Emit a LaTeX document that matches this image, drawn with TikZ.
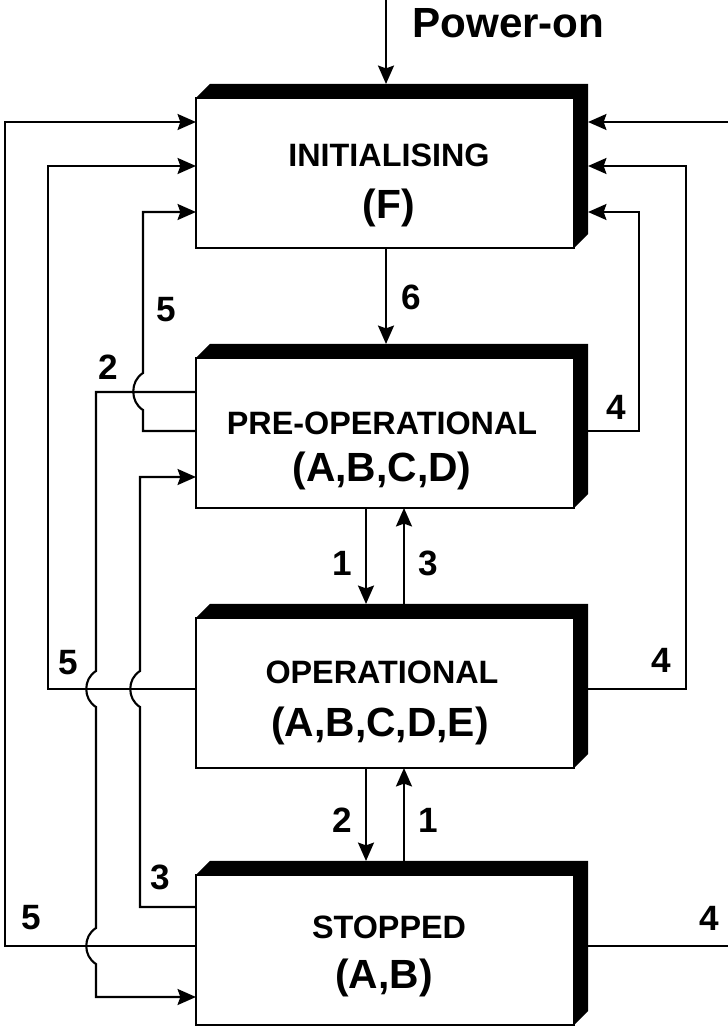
\documentclass[tikz,border=0pt]{standalone}
\usepackage{fontspec}
\setmainfont{Liberation Sans}
\usetikzlibrary{arrows.meta, calc, backgrounds}

\begin{document}
\begin{tikzpicture}[
        x=0.025cm, y=-0.025cm,
        state/.style={draw, fill=white, line width=1.1pt, minimum width=9.45cm, minimum height=3.75cm, inner sep=0pt, outer sep=0pt},
        stname/.style={font=\fontsize{23}{28}\selectfont\bfseries, inner sep=0pt},
        stval/.style={font=\fontsize{29}{34}\selectfont\bfseries, inner sep=0pt},
        arrow/.style={-{Stealth[length=4.6mm, width=4mm, inset=0.7mm]}, line width=1.5pt},
        num/.style={font=\fontsize{25}{30}\selectfont\bfseries, inner sep=0pt}
    ]
        \path[use as bounding box, clip] (0,0) rectangle (728,1026);

        % States
        \node[state] (init)  at (385,173) {};
        \node[state] (preop) at (385,433) {};
        \node[state] (op)    at (385,693) {};
        \node[state] (stop)  at (385,950) {};

        \node[stname] (init-n)  at (389,155) {INITIALISING};
        \node[stval]  (init-v)  at (389,208) {(F)};
        \node[stname] (preop-n) at (382,423) {PRE-OPERATIONAL};
        \node[stval]  (preop-v) at (382,471) {(A,B,C,D)};
        \node[stname] (op-n)    at (382,672) {OPERATIONAL};
        \node[stval]  (op-v)    at (380,726) {(A,B,C,D,E)};
        \node[stname] (stop-n)  at (389,927) {STOPPED};
        \node[stval]  (stop-v)  at (384,978) {(A,B)};

        % 3D edges
        \begin{scope}[on background layer]
            \foreach \n in {init,preop,op,stop}
                \fill (\n.north west) -- ++(14,-14) -- ($(\n.north east)+(14,-14)$)
                    -- ($(\n.south east)+(14,-14)$) -- (\n.south east) -- cycle;
        \end{scope}
        \foreach \n in {init,preop,op,stop}
            \coordinate (\n-r) at ($(\n.east)+(14,0)$);

        % Power-on
        \coordinate (pwr) at (386,0);
        \node[font=\fontsize{30}{34}\selectfont\bfseries, anchor=west, inner sep=0pt] (pwrtxt) at (412,23) {Power-on};
        \draw[arrow] (pwr) -- ($(init.north)+(1,-14)$);

        % Vertical transitions
        \draw[arrow] ($(init.south)+(1,0)$) -- ($(preop.north)+(1,-14)$);
        \draw[arrow] ($(preop.south)+(-19,0)$) -- ($(op.north)+(-19,-14)$);
        \draw[arrow] ($(op.north)+(19,-14)$) -- ($(preop.south)+(19,0)$);
        \draw[arrow] ($(op.south)+(-19,0)$) -- ($(stop.north)+(-19,-14)$);
        \draw[arrow] ($(stop.north)+(19,-14)$) -- ($(op.south)+(19,0)$);

        % Left side
        \draw[arrow] (stop.west |- 0,946) -- (5,946) |- (init.west |- 0,122);
        \draw[arrow] (op.west |- 0,689) -- (48,689) |- (init.west |- 0,166);
        \draw[arrow] (preop.west |- 0,431) -- (143,431) -- (143,410)
            .. controls +(-13,-8) and +(-13,8) .. (143,373) |- (init.west |- 0,212);
        \draw[arrow] (preop.west |- 0,392) -- (96,392) -- (96,671)
            .. controls +(-13,8) and +(-13,-8) .. (96,707) -- (96,928)
            .. controls +(-13,8) and +(-13,-8) .. (96,964) |- (stop.west |- 0,997);
        \draw[arrow] (stop.west |- 0,907) -- (140,907) -- (140,707)
            .. controls +(-13,-8) and +(-13,8) .. (140,671) |- (preop.west |- 0,477);

        % Right side
        \draw[arrow] (stop-r |- 0,946) -- (731,946) |- (init-r |- 0,122);
        \draw[arrow] (op-r |- 0,689) -- (686,689) |- (init-r |- 0,166);
        \draw[arrow] (preop-r |- 0,431) -- (639,431) |- (init-r |- 0,212);

        % Labels
        \node[num] (l6)  at (411,297) {6};
        \node[num] (l5a) at (166,310) {5};
        \node[num] (l2a) at (108,367) {2};
        \node[num] (l4a) at (616,407) {4};
        \node[num] (l1a) at (342,563) {1};
        \node[num] (l3a) at (428,563) {3};
        \node[num] (l5b) at (68,663) {5};
        \node[num] (l4b) at (661,660) {4};
        \node[num] (l2b) at (342,820) {2};
        \node[num] (l1b) at (428,820) {1};
        \node[num] (l3b) at (160,877) {3};
        \node[num] (l5c) at (31,918) {5};
        \node[num] (l4c) at (709,918) {4};

    \end{tikzpicture}
\end{document}
